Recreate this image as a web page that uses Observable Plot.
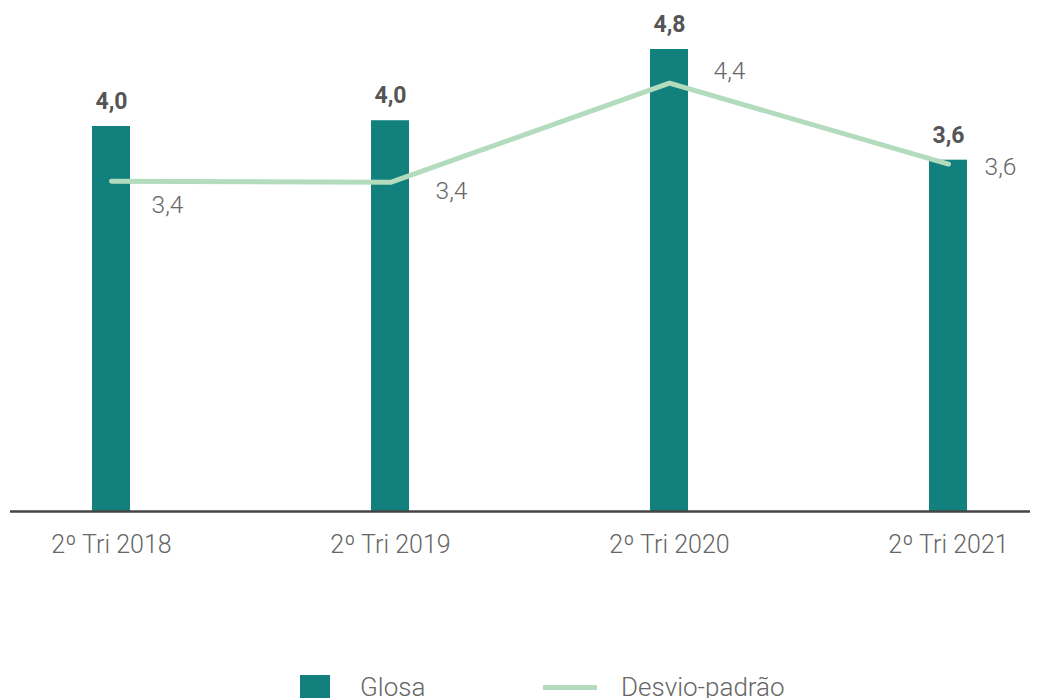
<!DOCTYPE html>
<html>
<head>
<meta charset="utf-8">
<script src="https://cdn.jsdelivr.net/npm/d3@7"></script>
<script src="https://cdn.jsdelivr.net/npm/@observablehq/plot@0.6"></script>
<style>
  html, body { margin: 0; padding: 0; background: #fff; }
  body { width: 1040px; height: 698px; overflow: hidden; font-family: Roboto, "Noto Sans", sans-serif; }
  #legend { position: relative; height: 58px; }
  .sw { position: absolute; }
  .lt { position: absolute; font-size: 26px; font-weight: 300; color: #666; line-height: 26px; }
</style>
</head>
<body>
<div id="chart"></div>
<div id="legend"></div>
<script>
const categorias = ["2º Tri 2018", "2º Tri 2019", "2º Tri 2020", "2º Tri 2021"];
const glosa = [4.0, 4.06, 4.8, 3.65];
const glosaRotulos = ["4,0", "4,0", "4,8", "3,6"];
const desvio = [3.43, 3.42, 4.45, 3.61];
const desvioRotulos = ["3,4", "3,4", "4,4", "3,6"];
const serieNomes = ["Glosa", "Desvio-padrão"];

// layout constants for the line labels (pixel offsets)
const rotuloDx = [56, 61, 60, 52];
const rotuloDy = [24, 9, -12, 3];

const corBarra = "#12817d";
const corLinha = "#b3dbbe";

const dados = categorias.map((c, i) => ({
  cat: c, glosa: glosa[i], gl: glosaRotulos[i], desvio: desvio[i], dl: desvioRotulos[i]
}));

const chart = Plot.plot({
  width: 1040,
  height: 640,
  marginTop: 49,
  marginBottom: 129,
  marginLeft: 10,
  marginRight: 10,
  style: { fontFamily: "Roboto, 'Noto Sans', sans-serif", color: "#666", background: "#fff" },
  x: { type: "band", domain: categorias, paddingInner: 0.864, paddingOuter: 0.222, insetLeft: 19, label: null },
  y: { domain: [0, 4.8], axis: null },
  marks: [
    Plot.barY(dados, { x: "cat", y: "glosa", fill: corBarra }),
    Plot.lineY(dados, { x: "cat", y: "desvio", stroke: corLinha, strokeWidth: 5, strokeLinejoin: "miter" }),
    Plot.text(dados, { x: "cat", y: "glosa", text: "gl", dy: -25, fontSize: 23, fontWeight: 700, fill: "#555" }),
    ...dados.map((d, i) => Plot.text([d], {
      x: "cat", y: "desvio", text: "dl", dx: rotuloDx[i], dy: rotuloDy[i],
      fontSize: 24.5, fontWeight: 300, fill: "#666"
    })),
    Plot.ruleY([0], { stroke: "#444", strokeWidth: 2.5 }),
    Plot.axisX({ tickSize: 0, tickPadding: 24, fontSize: 25, fontWeight: 300, fill: "#666", label: null })
  ]
});
document.getElementById("chart").appendChild(chart);

const legend = document.getElementById("legend");
legend.innerHTML = `
  <div class="sw" style="left:300px; top:35px; width:30px; height:30px; background:${corBarra};"></div>
  <div class="lt" style="left:360px; top:34px;">${serieNomes[0]}</div>
  <div class="sw" style="left:543px; top:45px; width:54px; height:5px; background:${corLinha};"></div>
  <div class="lt" style="left:621px; top:34px;">${serieNomes[1]}</div>
`;
</script>
</body>
</html>
